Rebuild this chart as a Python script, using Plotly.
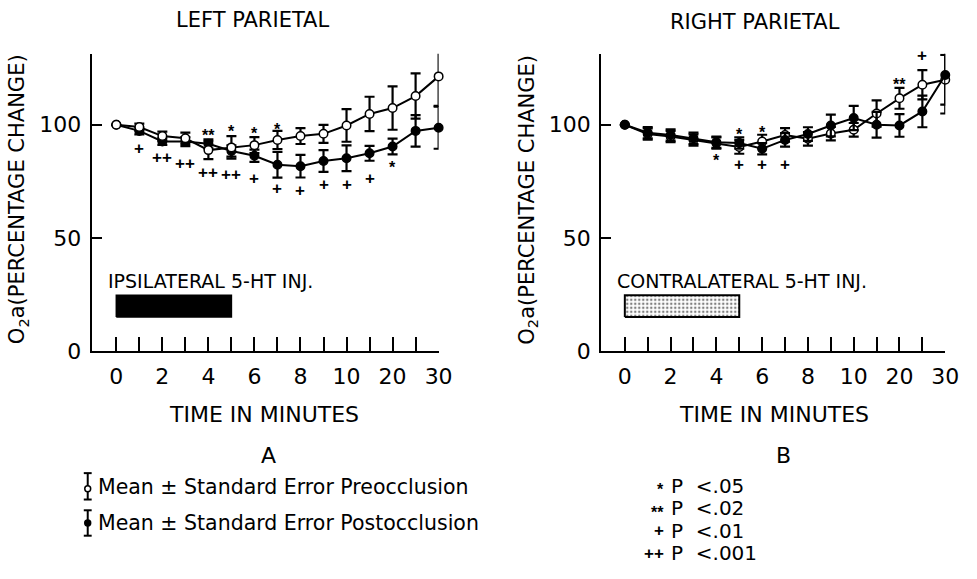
import plotly.graph_objects as go

# ---------------- data ----------------
minutes = [0, 1, 2, 3, 4, 5, 6, 7, 8, 9, 10, 15, 20, 25, 30]
pos = list(range(len(minutes)))
tick_text = ["0", "", "2", "", "4", "", "6", "", "8", "", "10", "", "20", "", "30"]

left_pre = [100, 99, 95, 94, 88.8, 90, 91, 93.3, 95, 96, 99.7, 104.8, 107.4, 112.7, 121.4]
left_pre_err = [0, 1.5, 2, 2.5, 4, 5, 3.5, 4, 3.5, 4, 7.2, 7.6, 9.6, 10, 13]
left_post = [100, 97.3, 92.6, 92.6, 91.6, 88.4, 86.3, 82.3, 81.7, 84, 85.2, 87.4, 90.4, 97.3, 98.7]
left_post_err = [0, 1.5, 1.5, 2, 2, 2.5, 2.7, 5.7, 5, 4.8, 5.7, 3.3, 3.5, 7, 9.3]

right_pre = [100, 95.9, 94.8, 93.3, 91.9, 90.2, 92.6, 95.5, 93.8, 96.1, 97.8, 105, 111.7, 117.7, 119.9]
right_pre_err = [0, 2.5, 2.5, 2.5, 2.5, 3, 3, 3, 3, 3, 3, 5.8, 4.6, 6.5, 11]
right_post = [100, 96.5, 95.5, 94, 92.3, 91.9, 89.4, 93.3, 95.9, 99.7, 103, 100, 99.7, 105.9, 122]
right_post_err = [0, 2.5, 2.5, 2.5, 2.5, 2.5, 2.5, 3, 3, 4.8, 5.4, 5.7, 5, 7, 17]

# significance marks: (position index, y value, symbol)
left_marks = [(1, 89.4, "+"), (2, 85.5, "++"), (3, 83, "++"), (4, 96.9, "**"), (4, 78.7, "++"),
              (5, 98.7, "*"), (5, 78, "++"), (6, 97.9, "*"), (6, 76.3, "+"), (7, 99.7, "*"),
              (7, 72, "+"), (8, 71, "+"), (9, 73.5, "+"), (10, 73.5, "+"), (11, 76.3, "+"),
              (12, 83, "*")]
right_marks = [(4, 86, "*"), (5, 97.6, "*"), (5, 82.3, "+"), (6, 98.3, "*"), (6, 82.3, "+"),
               (7, 82.3, "+"), (12, 119.6, "**"), (13, 130.7, "+"), (14, 135.5, "*")]

inj_start, inj_end = 0, 5          # injection period (position index)
inj_low, inj_high = 15, 24.6       # bar vertical extent (y units)

sig_symbols = ["*", "**", "+", "++"]
sig_text = ["P  &lt;.05", "P  &lt;.02", "P  &lt;.01", "P  &lt;.001"]

FONT = "DejaVu Sans"
MARK_FONT = "Liberation Sans"
W, H = 977, 579


def px(x):
    return x / W


def py(y):
    return 1 - y / H


fig = go.Figure()


def add_series(y, err, filled, xa, ya):
    fig.add_trace(go.Scatter(
        x=pos, y=y, xaxis=xa, yaxis=ya, mode="lines+markers",
        line=dict(color="black", width=2),
        marker=dict(symbol="circle", size=8.5,
                    color="black" if filled else "white",
                    line=dict(color="black", width=1.5)),
        error_y=dict(type="data", array=err, visible=True, color="black",
                     thickness=2.2, width=5),
        showlegend=False, cliponaxis=False))


# left panel: filled under, open on top
add_series(left_post, left_post_err, True, "x", "y")
add_series(left_pre, left_pre_err, False, "x", "y")
# right panel: open under, filled on top
add_series(right_pre, right_pre_err, False, "x2", "y2")
add_series(right_post, right_post_err, True, "x2", "y2")

# injection bars
fig.add_trace(go.Scatter(
    x=[inj_start, inj_end, inj_end, inj_start, inj_start],
    y=[inj_low, inj_low, inj_high, inj_high, inj_low],
    xaxis="x", yaxis="y", mode="lines", fill="toself", fillcolor="black",
    line=dict(color="black", width=1.5), showlegend=False))
fig.add_trace(go.Scatter(
    x=[inj_start, inj_end, inj_end, inj_start, inj_start],
    y=[inj_low, inj_low, inj_high, inj_high, inj_low],
    xaxis="x2", yaxis="y2", mode="lines", fill="toself", fillcolor="white",
    fillpattern=dict(shape=".", fgcolor="black", bgcolor="white", size=4, solidity=0.3),
    line=dict(color="black", width=2), showlegend=False))

ann = []


def mark_font(s):
    return dict(family=MARK_FONT, size=16 if "*" in s else 17, color="black")


for xa, ya, marks in (("x", "y", left_marks), ("x2", "y2", right_marks)):
    for i, v, s in marks:
        star = "*" in s
        ann.append(dict(x=i, y=v, xref=xa, yref=ya, text="<b>" + s + "</b>", showarrow=False,
                        xanchor="center", yanchor="middle",
                        font=mark_font(s), yshift=-4 if star else 0))

ann.append(dict(x=-0.45, y=31, xref="x", yref="y", text="IPSILATERAL 5-HT INJ.",
                showarrow=False, xanchor="left", yanchor="middle",
                font=dict(family=FONT, size=19, color="black")))
ann.append(dict(x=-0.45, y=31, xref="x2", yref="y2", text="CONTRALATERAL 5-HT INJ.",
                showarrow=False, xanchor="left", yanchor="middle",
                font=dict(family=FONT, size=19, color="black")))

texts = [
    (256, 20, "LEFT PARIETAL", 21),
    (766, 22, "RIGHT PARIETAL", 21),
    (268, 424, "TIME IN MINUTES", 22),
    (785, 424, "TIME IN MINUTES", 22),
    (272, 466, "A", 22),
    (795, 466, "B", 22),
]
for x, y, t, s in texts:
    ann.append(dict(x=px(x), y=py(y), xref="paper", yref="paper", text=t, showarrow=False,
                    xanchor="center", yanchor="middle",
                    font=dict(family=FONT, size=s, color="black")))

for x in (19, 536):
    ann.append(dict(x=px(x), y=py(204), xref="paper", yref="paper",
                    text="O<sub>2</sub>a(PERCENTAGE CHANGE)", textangle=-90, showarrow=False,
                    xanchor="center", yanchor="middle",
                    font=dict(family=FONT, size=21, color="black")))

# legend text
for y, t in ((498, "Mean \u00b1 Standard Error Preocclusion"),
             (535, "Mean \u00b1 Standard Error Postocclusion")):
    ann.append(dict(x=px(97), y=py(y), xref="paper", yref="paper", text=t, showarrow=False,
                    xanchor="left", yanchor="middle",
                    font=dict(family=FONT, size=20.5, color="black")))

for k, (s, t) in enumerate(zip(sig_symbols, sig_text)):
    y = 497 + 23 * k
    star = "*" in s
    ann.append(dict(x=px(676), y=py(y), xref="paper", yref="paper", text="<b>" + s + "</b>",
                    showarrow=False, xanchor="right", yanchor="middle",
                    yshift=-4 if star else 0, font=mark_font(s)))
    ann.append(dict(x=px(679), y=py(y), xref="paper", yref="paper", text=t, showarrow=False,
                    xanchor="left", yanchor="middle",
                    font=dict(family=FONT, size=20, color="black")))

# legend icons (shapes)
shapes = []
for (top, bot, cy, fill) in ((484, 511, 500, "white"), (522, 548, 535, "black")):
    shapes.append(dict(type="line", xref="paper", yref="paper", x0=px(89), x1=px(89),
                       y0=py(top), y1=py(bot), line=dict(color="black", width=2)))
    for yy in (top, bot):
        shapes.append(dict(type="line", xref="paper", yref="paper", x0=px(85), x1=px(93),
                           y0=py(yy), y1=py(yy), line=dict(color="black", width=2)))
    shapes.append(dict(type="circle", xref="paper", yref="paper", x0=px(86), x1=px(92),
                       y0=py(cy - 3), y1=py(cy + 3), fillcolor=fill,
                       line=dict(color="black", width=1.5)))

xcommon = dict(tickmode="array", tickvals=pos, ticktext=tick_text, ticks="inside",
               ticklen=14, tickwidth=2, tickcolor="black", showline=True, linecolor="black",
               linewidth=2, showgrid=False, zeroline=False, ticklabelstandoff=5,
               tickfont=dict(family=FONT, size=22, color="black"))
ycommon = dict(range=[0, 131.4], tickvals=[0, 50, 100], ticks="inside", ticklen=10,
               tickwidth=2, tickcolor="black", showline=True, linecolor="black", linewidth=2,
               showgrid=False, zeroline=False, ticklabelstandoff=4,
               tickfont=dict(family=FONT, size=22, color="black"))

fig.update_layout(
    width=W, height=H, margin=dict(l=0, r=0, t=0, b=0),
    paper_bgcolor="white", plot_bgcolor="white",
    xaxis=dict(domain=[px(93), px(445)], range=[-1.07, 14], anchor="y", **xcommon),
    yaxis=dict(domain=[py(359), py(55)], anchor="x", **ycommon),
    xaxis2=dict(domain=[px(610), px(959)], range=[-1.03, 14], anchor="y2", **xcommon),
    yaxis2=dict(domain=[py(359), py(55)], anchor="x2", **ycommon),
    annotations=ann, shapes=shapes,
)

fig.write_html("out.html")
